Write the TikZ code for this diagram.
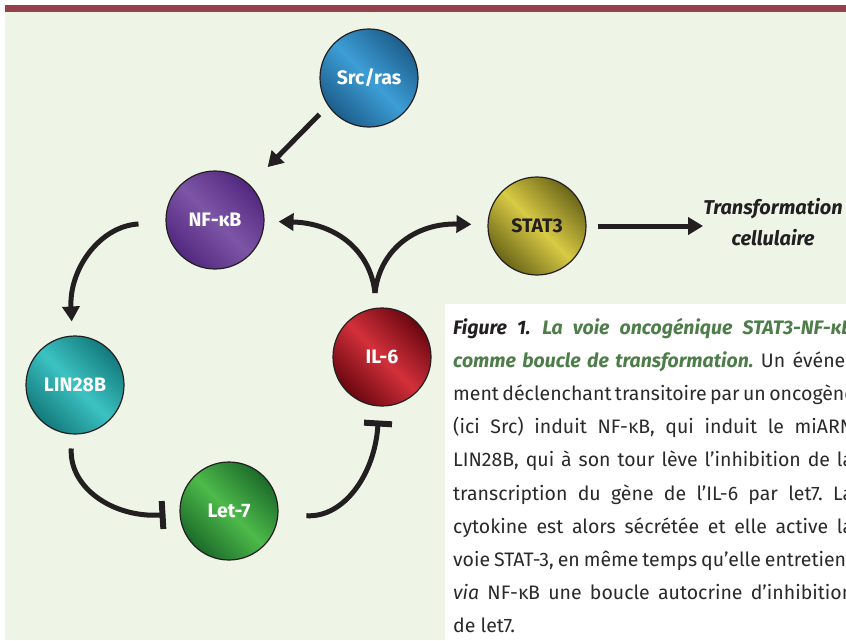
\documentclass[tikz,border=0pt]{standalone}
\usepackage{fontspec}
\setmainfont{Fira Sans}
\usetikzlibrary{arrows.meta}
\frenchspacing
\definecolor{ink}{HTML}{231F20}
\definecolor{bgreen}{HTML}{EEF5E7}
\definecolor{topbar}{HTML}{96404A}
\definecolor{capgreen}{HTML}{4E7D4A}
\definecolor{captext}{HTML}{2A2A2A}
\definecolor{srcD}{HTML}{1D5E8C}\definecolor{srcL}{HTML}{3D9ED6}
\definecolor{nfD}{HTML}{52287F}\definecolor{nfL}{HTML}{7D55A6}
\definecolor{statD}{HTML}{6B6618}\definecolor{statL}{HTML}{D8CA45}
\definecolor{linD}{HTML}{137A7C}\definecolor{linL}{HTML}{3CC2C2}
\definecolor{ilD}{HTML}{6A0710}\definecolor{ilL}{HTML}{D3303A}
\definecolor{letD}{HTML}{1C6B2A}\definecolor{letL}{HTML}{4DBA4A}
\newcommand{\mycapline}[1]{\hbox to 400pt{#1}}
\newcommand{\capgreenbf}[1]{\textcolor{capgreen}{\textbf{\textit{#1}}}}
\tikzset{
  cellnode/.style 2 args={circle, draw=ink, line width=1.2pt, minimum size=98pt, inner sep=0pt,
    left color=#1, right color=#1, middle color=#2, shading angle=-45,
    font=\bfseries\fontsize{19.5}{21}\selectfont, text=white},
  arr/.style={draw=ink, line width=5pt, -{Triangle[length=15pt,width=17pt]}},
  inh/.style={draw=ink, line width=5pt, -{Bar[width=28pt,line width=6pt]}}
}
\begin{document}
\begin{tikzpicture}[x=1pt,y=-1pt]
\useasboundingbox (0,0) rectangle (846,640);
\begin{scope}
\clip (0,0) rectangle (846,640);
\fill[white] (0,0) rectangle (846,640);
\fill[topbar] (5,5) rectangle (846,12);
\fill[bgreen] (5,12) rectangle (846,640);
\fill[white] (445,304) rectangle (846,640);

\node[cellnode={srcD}{srcL}] (src) at (369,78) {Src/ras};
\node[cellnode={nfD}{nfL}] (nfkb) at (215,220) {NF-κB};
\node[cellnode={statD}{statL}, text=ink] (stat) at (537,226) {STAT3};
\node[cellnode={linD}{linL}] (lin) at (75,385) {LIN28B};
\node[cellnode={ilD}{ilL}] (il) at (382,357) {IL-6};
\node[cellnode={letD}{letL}] (let) at (229,511) {Let-7};

\node[font=\bfseries\itshape\fontsize{20}{31}\selectfont, align=center, inner sep=0pt, text=ink] (trans) at (773,222) {Transformation\\cellulaire};

\coordinate (fork) at (375,293);

\draw[arr, shorten <=12pt, shorten >=25pt] (src.214) -- (nfkb.45);
\draw[arr, shorten <=27pt, shorten >=14pt] (nfkb) .. controls (100,226) and (69,269) .. (lin);
\draw[inh, shorten <=14pt, shorten >=14pt] (lin) .. controls (69,487) and (112,518) .. (let);
\draw[inh, shorten <=28pt, shorten >=14pt] (let) .. controls (344,518) and (375,474) .. (il);
\draw[arr, shorten >=14pt] (fork) .. controls (370,248) and (333,223) .. (nfkb);
\draw[arr, shorten >=16pt] (fork) .. controls (380,248) and (417,223) .. (stat);
\draw[arr, shorten <=11pt] (stat.east) -- (stat.east -| trans.west);

\node[anchor=base west, inner sep=0pt, text=captext, font=\fontsize{19.5}{33}\selectfont] (caption) at (453,334) {\vtop{\baselineskip=33.2pt
\mycapline{\textcolor{ink}{\textbf{\textit{Figure 1.}}} \capgreenbf{La voie oncogénique STAT3-NF-κB}}
\mycapline{\capgreenbf{comme boucle de transformation.} Un événe-}
\mycapline{ment déclenchant transitoire par un oncogène}
\mycapline{(ici Src) induit NF-κB, qui induit le miARN}
\mycapline{LIN28B, qui à son tour lève l’inhibition de la}
\mycapline{transcription du gène de l’IL-6 par let7. La}
\mycapline{cytokine est alors sécrétée et elle active la}
\mycapline{voie STAT-3, en même temps qu’elle entretient}
\mycapline{\textit{via} NF-κB une boucle autocrine d’inhibition}
\hbox{de let7.}}};
\end{scope}
\end{tikzpicture}
\end{document}
